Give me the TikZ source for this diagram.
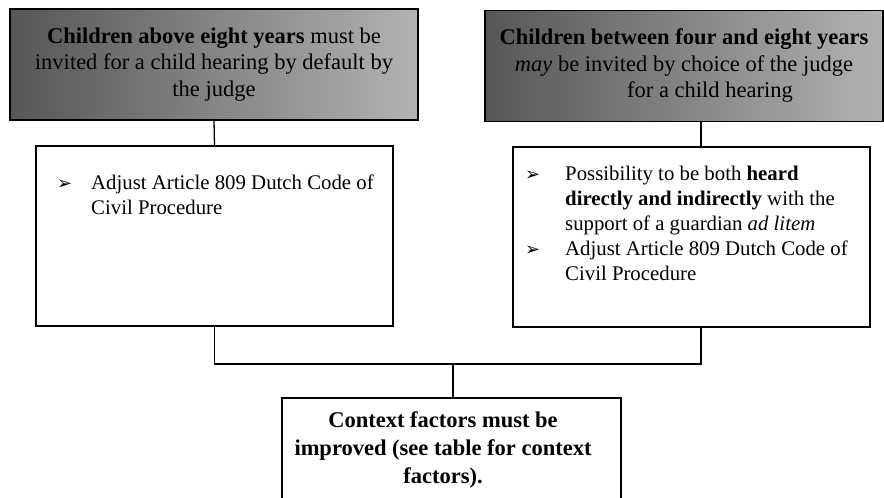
\documentclass[tikz,border=0pt]{standalone}
\usepackage{fontspec}
\setmainfont{Liberation Serif}
\newfontfamily\dingfont{DejaVu Sans}
\newcommand{\pijl}{{\dingfont\fontsize{18}{18}\selectfont ➢}}
\tikzset{
    kopbox/.style={draw, line width=1.3pt, left color=black!66, right color=black!30, minimum height=111pt, inner sep=0pt, align=center, font=\fontsize{22.5}{26.5}\selectfont},
    wbox/.style={draw, line width=1.3pt, fill=white, minimum width=357pt, minimum height=180pt, inner sep=0pt},
    lijst/.style={anchor=north west, inner sep=0pt, align=left, font=\fontsize{20.8}{25}\selectfont},
    lijn/.style={line width=1.3pt}
}
\begin{document}
\begin{tikzpicture}[x=1pt,y=1pt]
    \useasboundingbox (0,0) rectangle (884,498);
    % bovenste rij
    \node (kop1) at (214,433.5) [kopbox, minimum width=408pt] {\textbf{Children above eight years} must be\\invited for a child hearing by default by\\the judge};
    \node (kop2) at (684,432) [kopbox, minimum width=398pt] {\textbf{Children between four and eight years}\\\textit{may} be invited by choice of the judge\\\hspace*{52pt}for a child hearing};
    % middelste rij
    \node (midL) at (214.5,262) [wbox] {};
    \node (midR) at (691.5,261) [wbox] {};
    \node (lijstL) at (57,323) [lijst] {\makebox[34pt][l]{\pijl}Adjust Article 809 Dutch Code of\\\hspace*{34pt}Civil Procedure};
    \node (lijstR) at (525,332) [lijst] {\makebox[40pt][l]{\pijl}Possibility to be both \textbf{heard}\\\hspace*{40pt}\textbf{directly and indirectly} with the\\\hspace*{40pt}support of a guardian \textit{ad litem}\\\makebox[40pt][l]{\pijl}Adjust Article 809 Dutch Code of\\\hspace*{40pt}Civil Procedure};
    % onderste rij
    \node (onder) at (451.5,39) [draw, line width=1.3pt, fill=white, minimum width=339pt, minimum height=122pt] {};
    \node (onderTxt) at (443,48) [align=center, font=\bfseries\fontsize{22.5}{28}\selectfont] {Context factors must be\\improved (see table for context\\factors).};
    % verbindingen
    \coordinate (hub) at (453,134);
    \draw[lijn] (kop1.south) -- (midL.north);
    \draw[lijn] ([xshift=17pt]kop2.south) -- ([xshift=9.5pt]midR.north);
    \draw[lijn] (midL.south) |- (hub) -| ([xshift=9.5pt]midR.south);
    \draw[lijn] (hub) -- (hub |- onder.north);
\end{tikzpicture}
\end{document}
